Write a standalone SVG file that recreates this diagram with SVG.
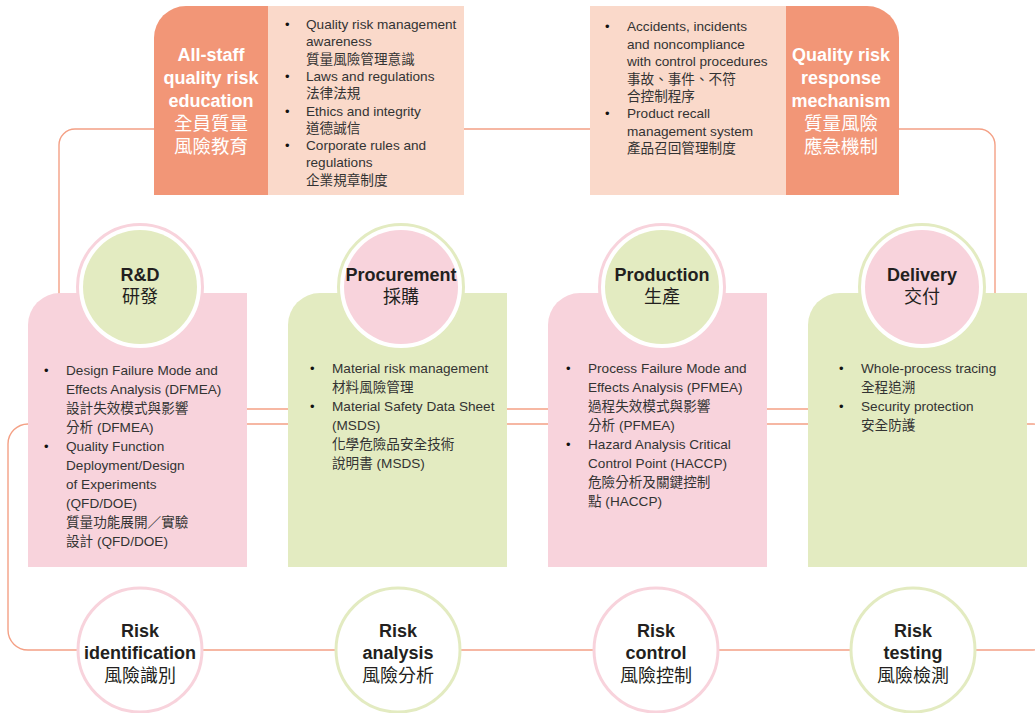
<svg xmlns="http://www.w3.org/2000/svg" width="1035" height="713" viewBox="0 0 1035 713">
<style>
.ln{fill:none;stroke:#f4a085;stroke-width:1.4}
.org{fill:#f29677}
.peach{fill:#fad9ca}
.pink{fill:#f8d3dc}
.green{fill:#e3ebc1}
.ringp{fill:#fff;stroke:#f8d3dc;stroke-width:3}
.ringg{fill:#fff;stroke:#e3ebc1;stroke-width:3}
.ttl{font-family:"Liberation Sans","Noto Sans CJK TC",Arial,sans-serif;font-size:18px;font-weight:bold;fill:#231f20;text-anchor:middle}
.ttlc{font-family:"Noto Sans CJK TC","Liberation Sans",sans-serif;font-size:18px;fill:#231f20;text-anchor:middle}
.wt{font-family:"Liberation Sans","Noto Sans CJK TC",Arial,sans-serif;font-size:18px;font-weight:bold;fill:#fff;text-anchor:middle}
.wtc{font-family:"Noto Sans CJK TC","Liberation Sans",sans-serif;font-size:18.5px;fill:#fff;text-anchor:middle}
.bd{font-family:"Liberation Sans","Noto Sans CJK TC",Arial,sans-serif;font-size:13.6px;fill:#333}
.bl{font-family:"Liberation Sans",Arial,sans-serif;font-size:13px;fill:#111}
</style>

<g id="connectors">
  <path class="ln" d="M59,295 V145 A16,16 0 0 1 75,129 H979 A16,16 0 0 1 995,145 V295"/>
  <line class="ln" x1="240" y1="409" x2="815" y2="409"/>
  <rect class="ln" x="8" y="424" width="1045" height="226" rx="20" ry="20"/>
</g>

<g id="education">
  <path class="org" d="M154,195 V38 A32,32 0 0 1 186,6 H268 V195 Z"/>
  <rect class="peach" x="268" y="6" width="196" height="189"/>
  <text class="wt" x="211" y="61">All-staff</text>
  <text class="wt" x="211" y="84">quality risk</text>
  <text class="wt" x="211" y="107">education</text>
  <text class="wtc" x="211" y="130">全員質量</text>
  <text class="wtc" x="211" y="153">風險教育</text>
  <text class="bl" x="285" y="29">•</text>
  <text class="bl" x="285" y="81">•</text>
  <text class="bl" x="285" y="116">•</text>
  <text class="bl" x="285" y="150">•</text>
  <text class="bd" x="306" y="29">Quality risk management</text>
  <text class="bd" x="306" y="46">awareness</text>
  <text class="bd" x="306" y="64">質量風險管理意識</text>
  <text class="bd" x="306" y="81">Laws and regulations</text>
  <text class="bd" x="306" y="98">法律法規</text>
  <text class="bd" x="306" y="116">Ethics and integrity</text>
  <text class="bd" x="306" y="133">道德誠信</text>
  <text class="bd" x="306" y="150">Corporate rules and</text>
  <text class="bd" x="306" y="167">regulations</text>
  <text class="bd" x="306" y="185">企業規章制度</text>
</g>

<g id="response">
  <rect class="peach" x="590" y="6" width="196" height="189"/>
  <path class="org" d="M786,6 H867 A32,32 0 0 1 899,38 V195 H786 Z"/>
  <text class="wt" x="841" y="61">Quality risk</text>
  <text class="wt" x="841" y="84">response</text>
  <text class="wt" x="841" y="107">mechanism</text>
  <text class="wtc" x="841" y="130">質量風險</text>
  <text class="wtc" x="841" y="153">應急機制</text>
  <text class="bl" x="605" y="31">•</text>
  <text class="bl" x="605" y="118">•</text>
  <text class="bd" x="627" y="31">Accidents, incidents</text>
  <text class="bd" x="627" y="49">and noncompliance</text>
  <text class="bd" x="627" y="66">with control procedures</text>
  <text class="bd" x="627" y="84">事故、事件、不符</text>
  <text class="bd" x="627" y="101">合控制程序</text>
  <text class="bd" x="627" y="118">Product recall</text>
  <text class="bd" x="627" y="136">management system</text>
  <text class="bd" x="627" y="153">產品召回管理制度</text>
</g>

<g id="rnd">
  <path class="pink" d="M28,567 V325 A32,32 0 0 1 60,293 H247 V567 Z"/>
  <circle class="ringp" cx="140" cy="287" r="62.5"/>
  <circle class="green" cx="140" cy="287" r="57"/>
  <text class="ttl" x="140" y="281">R&amp;D</text>
  <text class="ttlc" x="140" y="303">研發</text>
  <text class="bl" x="44" y="375">•</text>
  <text class="bl" x="44" y="451">•</text>
  <text class="bd" x="66" y="375">Design Failure Mode and</text>
  <text class="bd" x="66" y="394">Effects Analysis (DFMEA)</text>
  <text class="bd" x="66" y="413">設計失效模式與影響</text>
  <text class="bd" x="66" y="432">分析 (DFMEA)</text>
  <text class="bd" x="66" y="451">Quality Function</text>
  <text class="bd" x="66" y="470">Deployment/Design</text>
  <text class="bd" x="66" y="489">of Experiments</text>
  <text class="bd" x="66" y="508">(QFD/DOE)</text>
  <text class="bd" x="66" y="527">質量功能展開／實驗</text>
  <text class="bd" x="66" y="546">設計 (QFD/DOE)</text>
</g>

<g id="procurement">
  <path class="green" d="M288,567 V325 A32,32 0 0 1 320,293 H507 V567 Z"/>
  <circle class="ringg" cx="401" cy="287" r="62.5"/>
  <circle class="pink" cx="401" cy="287" r="57"/>
  <text class="ttl" x="401" y="281">Procurement</text>
  <text class="ttlc" x="401" y="303">採購</text>
  <text class="bl" x="310" y="373">•</text>
  <text class="bl" x="310" y="411">•</text>
  <text class="bd" x="332" y="373">Material risk management</text>
  <text class="bd" x="332" y="392">材料風險管理</text>
  <text class="bd" x="332" y="411">Material Safety Data Sheet</text>
  <text class="bd" x="332" y="430">(MSDS)</text>
  <text class="bd" x="332" y="449">化學危險品安全技術</text>
  <text class="bd" x="332" y="468">說明書 (MSDS)</text>
</g>

<g id="production">
  <path class="pink" d="M548,567 V325 A32,32 0 0 1 580,293 H767 V567 Z"/>
  <circle class="ringp" cx="662" cy="287" r="62.5"/>
  <circle class="green" cx="662" cy="287" r="57"/>
  <text class="ttl" x="662" y="281">Production</text>
  <text class="ttlc" x="662" y="303">生產</text>
  <text class="bl" x="566" y="373">•</text>
  <text class="bl" x="566" y="449">•</text>
  <text class="bd" x="588" y="373">Process Failure Mode and</text>
  <text class="bd" x="588" y="392">Effects Analysis (PFMEA)</text>
  <text class="bd" x="588" y="411">過程失效模式與影響</text>
  <text class="bd" x="588" y="430">分析 (PFMEA)</text>
  <text class="bd" x="588" y="449">Hazard Analysis Critical</text>
  <text class="bd" x="588" y="468">Control Point (HACCP)</text>
  <text class="bd" x="588" y="487">危險分析及關鍵控制</text>
  <text class="bd" x="588" y="506">點 (HACCP)</text>
</g>

<g id="delivery">
  <path class="green" d="M808,567 V325 A32,32 0 0 1 840,293 H1027 V567 Z"/>
  <circle class="ringg" cx="922" cy="287" r="62.5"/>
  <circle class="pink" cx="922" cy="287" r="57"/>
  <text class="ttl" x="922" y="281">Delivery</text>
  <text class="ttlc" x="922" y="303">交付</text>
  <text class="bl" x="839" y="373">•</text>
  <text class="bl" x="839" y="411">•</text>
  <text class="bd" x="861" y="373">Whole-process tracing</text>
  <text class="bd" x="861" y="392">全程追溯</text>
  <text class="bd" x="861" y="411">Security protection</text>
  <text class="bd" x="861" y="430">安全防護</text>
</g>

<g id="identification">
  <circle class="ringp" cx="140" cy="650" r="62"/>
  <text class="ttl" x="140" y="637">Risk</text>
  <text class="ttl" x="140" y="659">identification</text>
  <text class="ttlc" x="140" y="682">風險識別</text>
</g>
<g id="analysis">
  <circle class="ringg" cx="398" cy="650" r="62"/>
  <text class="ttl" x="398" y="637">Risk</text>
  <text class="ttl" x="398" y="659">analysis</text>
  <text class="ttlc" x="398" y="682">風險分析</text>
</g>
<g id="control">
  <circle class="ringp" cx="656" cy="650" r="62"/>
  <text class="ttl" x="656" y="637">Risk</text>
  <text class="ttl" x="656" y="659">control</text>
  <text class="ttlc" x="656" y="682">風險控制</text>
</g>
<g id="testing">
  <circle class="ringg" cx="913" cy="650" r="62"/>
  <text class="ttl" x="913" y="637">Risk</text>
  <text class="ttl" x="913" y="659">testing</text>
  <text class="ttlc" x="913" y="682">風險檢測</text>
</g>
</svg>
